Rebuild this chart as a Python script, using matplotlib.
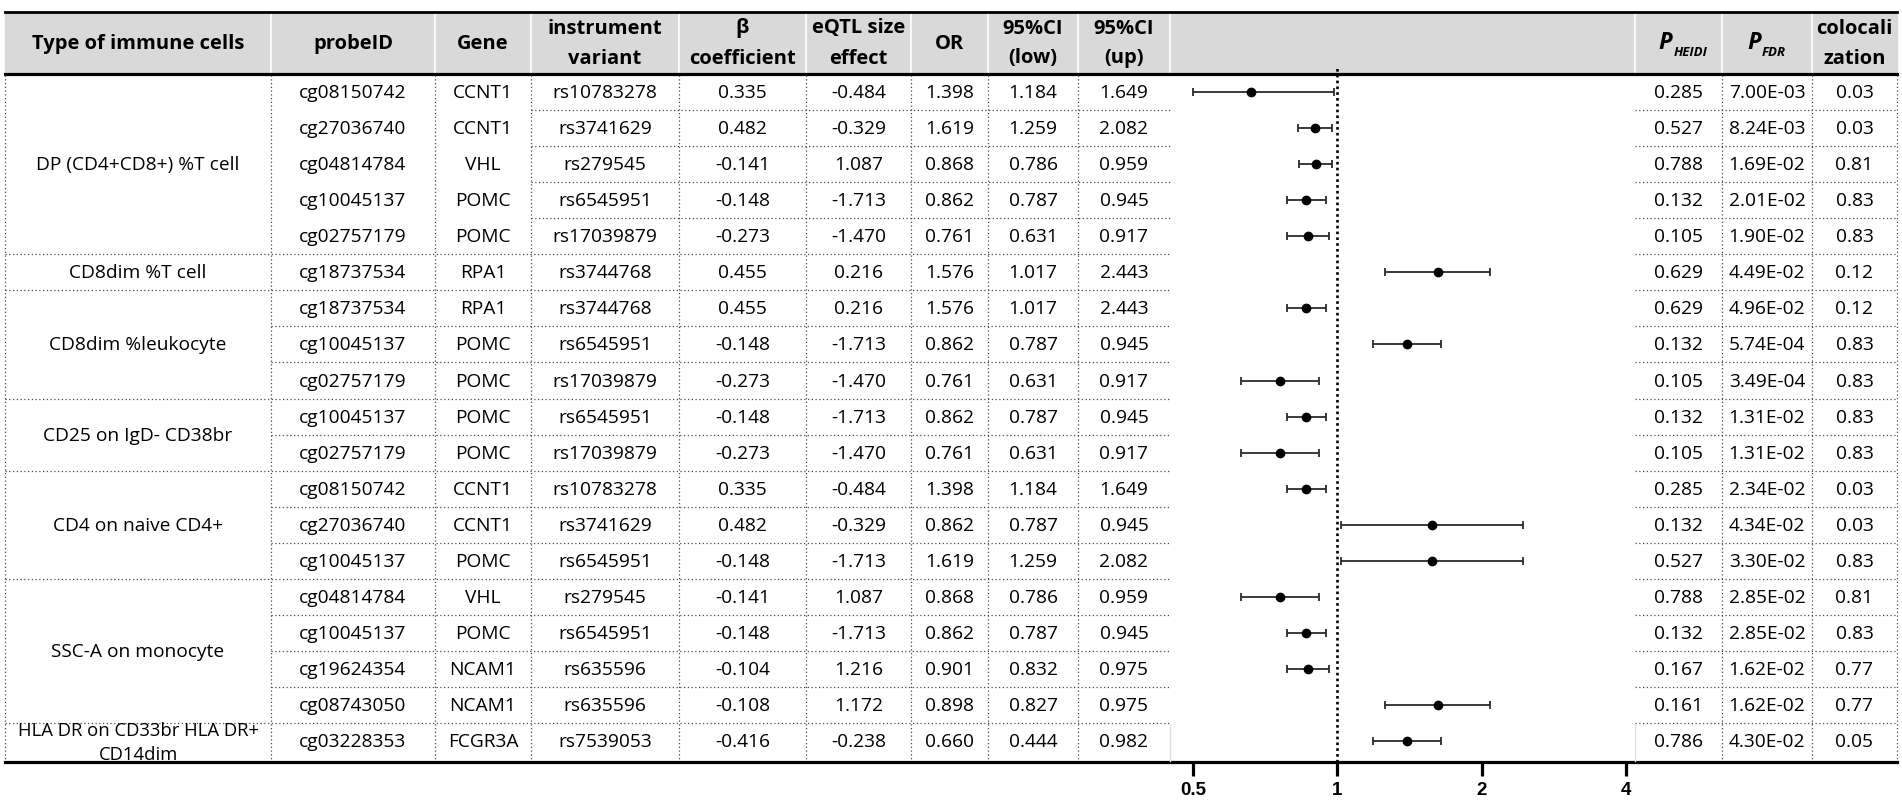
import numpy as np
import matplotlib
matplotlib.use("Agg")
import matplotlib.pyplot as plt
from matplotlib.patches import Rectangle

plt.rcParams['font.family'] = ['Open Sans', 'DejaVu Sans']

# ---- table data ----
groups = ['DP (CD4+CD8+) %T cell', 'CD8dim %T cell', 'CD8dim %leukocyte',
          'CD25 on IgD- CD38br', 'CD4 on naive CD4+', 'SSC-A on monocyte',
          'HLA DR on CD33br HLA DR+\nCD14dim']
group_sizes = [5, 1, 3, 2, 3, 4, 1]

probe_ids = ['cg08150742', 'cg27036740', 'cg04814784', 'cg10045137', 'cg02757179',
             'cg18737534',
             'cg18737534', 'cg10045137', 'cg02757179',
             'cg10045137', 'cg02757179',
             'cg08150742', 'cg27036740', 'cg10045137',
             'cg04814784', 'cg10045137', 'cg19624354', 'cg08743050',
             'cg03228353']
genes = ['CCNT1', 'CCNT1', 'VHL', 'POMC', 'POMC',
         'RPA1',
         'RPA1', 'POMC', 'POMC',
         'POMC', 'POMC',
         'CCNT1', 'CCNT1', 'POMC',
         'VHL', 'POMC', 'NCAM1', 'NCAM1',
         'FCGR3A']
variants = ['rs10783278', 'rs3741629', 'rs279545', 'rs6545951', 'rs17039879',
            'rs3744768',
            'rs3744768', 'rs6545951', 'rs17039879',
            'rs6545951', 'rs17039879',
            'rs10783278', 'rs3741629', 'rs6545951',
            'rs279545', 'rs6545951', 'rs635596', 'rs635596',
            'rs7539053']
beta = [0.335, 0.482, -0.141, -0.148, -0.273,
        0.455,
        0.455, -0.148, -0.273,
        -0.148, -0.273,
        0.335, 0.482, -0.148,
        -0.141, -0.148, -0.104, -0.108,
        -0.416]
eqtl = [-0.484, -0.329, 1.087, -1.713, -1.470,
        0.216,
        0.216, -1.713, -1.470,
        -1.713, -1.470,
        -0.484, -0.329, -1.713,
        1.087, -1.713, 1.216, 1.172,
        -0.238]
or_vals = [1.398, 1.619, 0.868, 0.862, 0.761,
           1.576,
           1.576, 0.862, 0.761,
           0.862, 0.761,
           1.398, 0.862, 1.619,
           0.868, 0.862, 0.901, 0.898,
           0.660]
ci_low = [1.184, 1.259, 0.786, 0.787, 0.631,
          1.017,
          1.017, 0.787, 0.631,
          0.787, 0.631,
          1.184, 0.787, 1.259,
          0.786, 0.787, 0.832, 0.827,
          0.444]
ci_up = [1.649, 2.082, 0.959, 0.945, 0.917,
         2.443,
         2.443, 0.945, 0.917,
         0.945, 0.917,
         1.649, 0.945, 2.082,
         0.959, 0.945, 0.975, 0.975,
         0.982]
p_heidi = [0.285, 0.527, 0.788, 0.132, 0.105,
           0.629,
           0.629, 0.132, 0.105,
           0.132, 0.105,
           0.285, 0.132, 0.527,
           0.788, 0.132, 0.167, 0.161,
           0.786]
p_fdr = [7.00e-03, 8.24e-03, 1.69e-02, 2.01e-02, 1.90e-02,
         4.49e-02,
         4.96e-02, 5.74e-04, 3.49e-04,
         1.31e-02, 1.31e-02,
         2.34e-02, 4.34e-02, 3.30e-02,
         2.85e-02, 2.85e-02, 1.62e-02, 1.62e-02,
         4.30e-02]
coloc = [0.03, 0.03, 0.81, 0.83, 0.83,
         0.12,
         0.12, 0.83, 0.83,
         0.83, 0.83,
         0.03, 0.03, 0.83,
         0.81, 0.83, 0.77, 0.77,
         0.05]

# ---- forest plot data (as drawn, top to bottom) ----
fp_or = [0.660, 0.898, 0.901, 0.862, 0.868, 1.619, 0.862, 1.398, 0.761, 0.862,
         0.761, 0.862, 1.576, 1.576, 0.761, 0.862, 0.868, 1.619, 1.398]
fp_low = [0.444, 0.827, 0.832, 0.787, 0.786, 1.259, 0.787, 1.184, 0.631, 0.787,
          0.631, 0.787, 1.017, 1.017, 0.631, 0.787, 0.786, 1.259, 1.184]
fp_up = [0.982, 0.975, 0.975, 0.945, 0.959, 2.082, 0.945, 1.649, 0.917, 0.945,
         0.917, 0.945, 2.443, 2.443, 0.917, 0.945, 0.959, 2.082, 1.649]
fp_ticks = [0.5, 1, 2, 4]

# ---- layout (pixels) ----
W, H = 1902, 803
edges = [5, 271, 435, 531, 679, 806, 911, 988, 1078, 1170, 1635, 1722, 1812, 1897]
head_top, head_bot = 13, 74
row_top, row_h = 75, 36.06
n_rows = len(probe_ids)
table_bot = 763

fig = plt.figure(figsize=(W / 100, H / 100), dpi=100)
ax = fig.add_axes([0, 0, 1, 1])
ax.set_xlim(0, W)
ax.set_ylim(H, 0)
ax.axis('off')

BODY = 13.8
HEAD = 14.5
dot = (0, (1, 2))
dcol = '#4a4a4a'

# header
ax.add_patch(Rectangle((edges[0], head_top), edges[-1] - edges[0], head_bot - head_top,
                       color='#d9d9d9', zorder=0))
for x in edges[1:-1]:
    ax.plot([x, x], [head_top + 1, head_bot - 1], color='white', lw=1.2, zorder=1)

def cx(i):
    return (edges[i] + edges[i + 1]) / 2

headers = [['Type of immune cells'], ['probeID'], ['Gene'], ['instrument', 'variant'],
           ['β', 'coefficient'], ['eQTL size', 'effect'], ['OR'], ['95%CI', '(low)'],
           ['95%CI', '(up)'], [], None, None, ['colocali', 'zation']]
for i, h in enumerate(headers):
    if not h:
        continue
    if len(h) == 1:
        ax.text(cx(i), 44, h[0], ha='center', va='center', fontsize=HEAD, fontweight='bold')
    else:
        ax.text(cx(i), 28.5, h[0], ha='center', va='center', fontsize=HEAD, fontweight='bold')
        ax.text(cx(i), 58.5, h[1], ha='center', va='center', fontsize=HEAD, fontweight='bold')

for i, sub in [(10, 'HEIDI'), (11, 'FDR')]:
    tp = ax.text(cx(i) - 6, 43, 'P', ha='right', va='center', fontsize=17,
                 fontweight='bold', fontstyle='italic')
    ax.annotate(sub, xy=(1.05, 0.12), xycoords=tp, ha='left', va='center',
                fontsize=9.5, fontweight='bold', fontstyle='italic')

ax.plot([edges[0], edges[-1]], [head_top - 0.5, head_top - 0.5], color='black', lw=2.0)
ax.plot([edges[0], edges[-1]], [head_bot + 0.5, head_bot + 0.5], color='black', lw=2.3)
ax.plot([edges[0], edges[-1]], [table_bot, table_bot], color='black', lw=2.3)

# body grid
body_vlines = [5, 271, 435, 531, 679, 806, 911, 988, 1078, 1722, 1812, 1897]
for x in body_vlines:
    ax.plot([x, x], [head_bot + 2, table_bot - 1], color=dcol, lw=0.9, ls=dot)

bounds = np.cumsum(group_sizes)
for k in range(1, n_rows):
    y = row_top + row_h * k
    if k in bounds:
        x0 = edges[0]
    elif k < group_sizes[0]:
        x0 = edges[3]
    else:
        x0 = edges[1]
    ax.plot([x0, edges[9]], [y, y], color=dcol, lw=0.9, ls=dot)
    ax.plot([edges[10], edges[-1]], [y, y], color=dcol, lw=0.9, ls=dot)

# faint borders of last row around forest column
y_last = row_top + row_h * (n_rows - 1)
for x in [edges[9], edges[10]]:
    ax.plot([x, x], [y_last + 1, table_bot - 1], color='#e2e2e2', lw=1)

# group labels
start = 0
for g, n in zip(groups, group_sizes):
    yc = row_top + row_h * (start + n / 2)
    if '\n' in g:
        l1, l2 = g.split('\n')
        ax.text(cx(0), yc - 11, l1, ha='center', va='center', fontsize=BODY - 0.5)
        ax.text(cx(0), yc + 13, l2, ha='center', va='center', fontsize=BODY - 0.5)
    else:
        ax.text(cx(0), yc, g, ha='center', va='center', fontsize=BODY)
    start += n

# row values
for r in range(n_rows):
    yc = row_top + row_h * (r + 0.5)
    cells = [probe_ids[r], genes[r], variants[r], f'{beta[r]:.3f}', f'{eqtl[r]:.3f}',
             f'{or_vals[r]:.3f}', f'{ci_low[r]:.3f}', f'{ci_up[r]:.3f}']
    for j, s in enumerate(cells):
        ax.text(cx(j + 1), yc, s, ha='center', va='center', fontsize=BODY)
    right = [f'{p_heidi[r]:.3f}', f'{p_fdr[r]:.2E}', f'{coloc[r]:.2f}']
    for j, s in enumerate(right):
        ax.text(cx(j + 10), yc, s, ha='center', va='center', fontsize=BODY)

# ---- forest plot ----
fx0, fx1 = 1193, 1626
ax2 = fig.add_axes([fx0 / W, (H - table_bot) / H, (fx1 - fx0) / W, (table_bot - row_top) / H])
ax2.patch.set_alpha(0)
ax2.set_xscale('log', base=2)
ax2.set_xlim(fp_ticks[0], fp_ticks[-1])
ax2.set_ylim((table_bot - row_top) / row_h, 0)
for s in ax2.spines.values():
    s.set_visible(False)

ypos = np.arange(len(fp_or)) + 0.5
fo = np.array(fp_or)
lo = np.maximum(np.array(fp_low), fp_ticks[0])
up = np.array(fp_up)
ax2.errorbar(fo, ypos, xerr=[fo - lo, up - fo], fmt='none', ecolor='#2b2b2b',
             elinewidth=1.3, capsize=3.2, capthick=1.3, clip_on=False)
ax2.plot(fo, ypos, 'o', color='black', ms=6, clip_on=False)
ax2.axvline(1, ymin=0, ymax=1.01, color='black', lw=1.9, ls=(0, (1, 1.2)), clip_on=False)

ax2.set_xticks(fp_ticks)
ax2.set_xticklabels(['0.5', '1', '2', '4'])
ax2.minorticks_off()
ax2.tick_params(axis='x', which='major', direction='out', length=10, width=2.3,
                pad=4, labelsize=13.5)
for lbl in ax2.get_xticklabels():
    lbl.set_fontweight('bold')
    lbl.set_family(['Liberation Sans Narrow', 'Liberation Sans', 'DejaVu Sans'])
ax2.set_yticks([])

fig.savefig('out.png', dpi=100)
